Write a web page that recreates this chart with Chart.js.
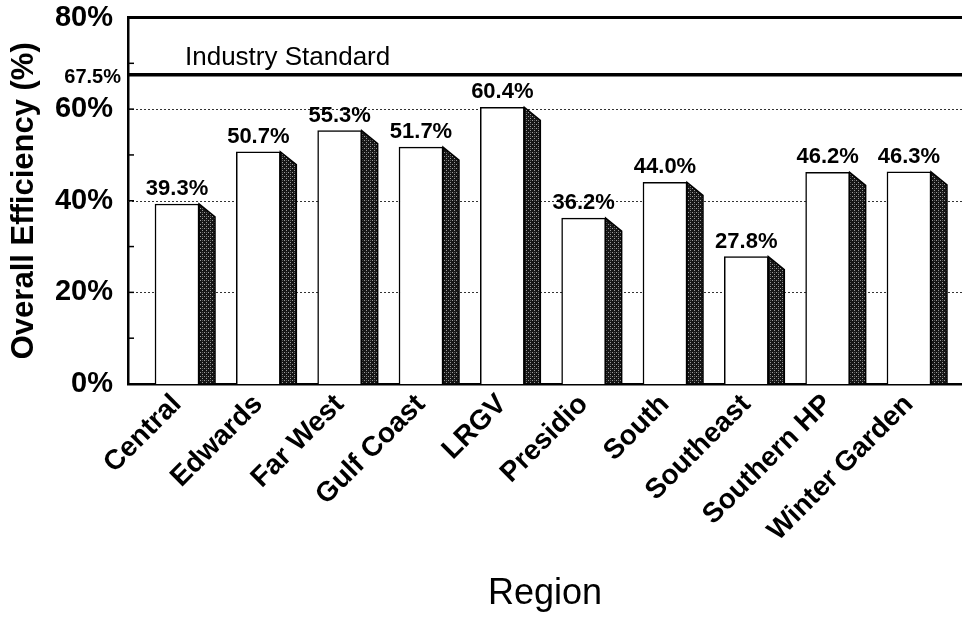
<!DOCTYPE html>
<html><head><meta charset="utf-8">
<script src="https://cdn.jsdelivr.net/npm/chart.js@4"></script>
<style>html,body{margin:0;padding:0;background:#fff;overflow:hidden}</style>
</head><body>
<canvas id="c" width="962" height="619"></canvas>
<script>
const categories = ['Central','Edwards','Far West','Gulf Coast','LRGV','Presidio','South','Southeast','Southern HP','Winter Garden'];
const efficiency = [39.3,50.7,55.3,51.7,60.4,36.2,44.0,27.8,46.2,46.3];
const yTicks = [0,20,40,60,80];
const minorTicks = [10,20,30,40,50,60,70];
const industryStandard = 67.5;
const industryLabel = 'Industry Standard';
const yTitle = 'Overall Efficiency (%)';
const xTitle = 'Region';

const FONT = '"Liberation Sans", Arial, Helvetica, sans-serif';
Chart.defaults.font.family = FONT;
Chart.defaults.color = '#000';

function makePattern(){
  const p = document.createElement('canvas');
  p.width = 4; p.height = 4;
  const g = p.getContext('2d');
  g.fillStyle = '#161616'; g.fillRect(0,0,4,4);
  g.fillStyle = '#9c9c9c';
  g.fillRect(0,0,1,1); g.fillRect(2,2,1,1);
  g.fillStyle = '#5a5a5a';
  g.fillRect(2,0,1,1);
  return g.createPattern(p,'repeat');
}

const deco = {
  id:'deco',
  beforeDatasetsDraw(chart){
    const {ctx, chartArea:a, scales:{y}} = chart;
    ctx.save();
    ctx.strokeStyle = '#333';
    ctx.lineWidth = 1;
    ctx.setLineDash([2,2]);
    yTicks.forEach(v=>{
      if (v===0 || v===80) return;
      const py = Math.round(y.getPixelForValue(v))+0.5;
      ctx.beginPath(); ctx.moveTo(a.left, py); ctx.lineTo(a.right, py); ctx.stroke();
    });
    ctx.setLineDash([]);
    ctx.lineWidth = 1.5;
    ctx.strokeStyle = '#000';
    minorTicks.forEach(v=>{
      const py = y.getPixelForValue(v);
      ctx.beginPath(); ctx.moveTo(a.left, py); ctx.lineTo(a.left+6, py); ctx.stroke();
    });
    ctx.restore();
  },
  afterDatasetsDraw(chart){
    const {ctx, chartArea:a, scales:{x,y}} = chart;
    const meta = chart.getDatasetMeta(0);
    const pat = makePattern();
    ctx.save();
    meta.data.forEach((bar,i)=>{
      const xr = bar.x + bar.width/2;
      const yt = bar.y;
      const base = bar.base;
      const dx = 16, dy = 13;
      ctx.beginPath();
      ctx.moveTo(xr, yt);
      ctx.lineTo(xr+dx, yt+dy);
      ctx.lineTo(xr+dx, base);
      ctx.lineTo(xr, base);
      ctx.closePath();
      ctx.fillStyle = pat;
      ctx.fill();
      ctx.lineWidth = 1.5;
      ctx.strokeStyle = '#000';
      ctx.stroke();
      ctx.fillStyle = '#000';
      ctx.font = 'bold 22px ' + FONT;
      ctx.textAlign = 'center';
      ctx.textBaseline = 'alphabetic';
      ctx.fillText(efficiency[i].toFixed(1)+'%', bar.x, yt - 9);
    });
    const yTop = y.getPixelForValue(80);
    ctx.lineWidth = 3;
    ctx.strokeStyle = '#000';
    ctx.beginPath(); ctx.moveTo(a.left-1, yTop); ctx.lineTo(a.right, yTop); ctx.stroke();
    const yInd = y.getPixelForValue(industryStandard);
    ctx.lineWidth = 3.5;
    ctx.beginPath(); ctx.moveTo(a.left-1, yInd); ctx.lineTo(a.right, yInd); ctx.stroke();
    ctx.font = '26px ' + FONT;
    ctx.textAlign = 'left';
    ctx.textBaseline = 'alphabetic';
    ctx.fillText(industryLabel, x.getPixelForValue(0)+8, yInd - 10);
    ctx.font = 'bold 20px ' + FONT;
    ctx.textAlign = 'right';
    ctx.textBaseline = 'middle';
    ctx.fillText(industryStandard.toFixed(1)+'%', a.left - 7, yInd + 3);
    ctx.restore();
  }
};

new Chart(document.getElementById('c'), {
  type:'bar',
  data:{
    datasets:[{
      data: efficiency.map((v,i)=>({x:i, y:v})),
      backgroundColor:'#fff',
      borderColor:'#000',
      borderWidth:1.5,
      barThickness:44
    }]
  },
  options:{
    responsive:false,
    animation:false,
    devicePixelRatio:1,
    layout:{padding:{top:17.5,right:0,bottom:0,left:0}},
    plugins:{legend:{display:false},tooltip:{enabled:false}},
    scales:{
      x:{
        type:'linear',
        offset:false,
        min:-0.6025, max:9.652,
        afterBuildTicks:s=>{ s.ticks = categories.map((c,i)=>({value:i})); },
        afterFit:s=>{ s.height = 235; s.paddingLeft = 0; s.paddingRight = 0; },
        grid:{display:false, drawTicks:false, offset:false},
        border:{display:true,color:'#000',width:2.5},
        ticks:{
          autoSkip:false, minRotation:45, maxRotation:45, padding:4,
          font:{size:28, weight:'bold'}, color:'#000',
          callback:(v)=>categories[v] ?? ''
        },
        title:{display:true,text:xTitle,font:{size:36},color:'#000',padding:{top:0,bottom:3}}
      },
      y:{
        min:0, max:80,
        afterBuildTicks:s=>{ s.ticks = yTicks.map(v=>({value:v})); },
        afterFit:s=>{ s.width = 128; s.paddingTop = 0; s.paddingBottom = 0; },
        grid:{display:false, drawTicks:false},
        border:{display:true,color:'#000',width:2.5},
        ticks:{padding:15, font:{size:29, weight:'bold'}, color:'#000', callback:v=>v+'%'},
        title:{display:true,text:yTitle,font:{size:31,weight:'bold'},color:'#000',padding:{top:6,bottom:0}}
      }
    }
  },
  plugins:[deco]
});
</script>
</body></html>
